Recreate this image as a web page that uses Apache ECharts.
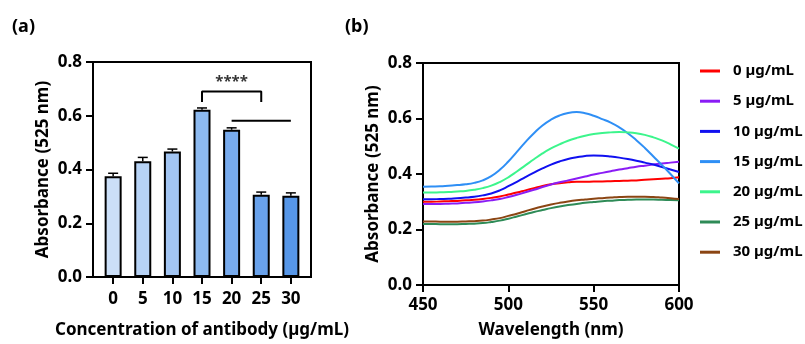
<!DOCTYPE html>
<html><head><meta charset="utf-8">
<script src="https://cdn.jsdelivr.net/npm/echarts@6/dist/echarts.min.js"></script>
<style>html,body{margin:0;padding:0;background:#fff}#c{width:805px;height:344px}</style>
</head><body><div id="c"></div>
<script>
// ---- Panel (a) data ----
const categories = ['0', '5', '10', '15', '20', '25', '30'];
const barValues = [0.375, 0.431, 0.467, 0.622, 0.548, 0.306, 0.302];
const barErrors = [0.011, 0.014, 0.009, 0.007, 0.007, 0.010, 0.011];
const barColors = ['#cbdff8', '#b7d3f6', '#a2c5f3', '#8dbaf0', '#78abed', '#69a2eb', '#5797e8'];
const bracketPoints = [[3, 0.651], [3, 0.69], [5, 0.69], [5, 0.651]];
const plainLinePoints = [[4, 0.581], [6, 0.581]];
const sigLabelPoint = [4, 0.69];
const sigLabel = '****';

// ---- Panel (b) data ----
const wavelengths = [450, 455, 460, 465, 470, 475, 480, 485, 490, 495, 500, 505, 510, 515, 520, 525,
                     530, 535, 540, 545, 550, 555, 560, 565, 570, 575, 580, 585, 590, 595, 600];
const abs0  = [0.300, 0.300, 0.301, 0.302, 0.303, 0.305, 0.307, 0.310, 0.314, 0.319, 0.326, 0.333, 0.341, 0.349, 0.357, 0.363,
               0.367, 0.370, 0.372, 0.372, 0.373, 0.373, 0.374, 0.375, 0.376, 0.377, 0.379, 0.381, 0.383, 0.385, 0.388];
const abs5  = [0.292, 0.292, 0.292, 0.293, 0.294, 0.296, 0.298, 0.301, 0.305, 0.310, 0.317, 0.325, 0.334, 0.343, 0.353, 0.362,
               0.370, 0.377, 0.384, 0.391, 0.398, 0.404, 0.410, 0.416, 0.421, 0.426, 0.430, 0.434, 0.438, 0.441, 0.444];
const abs10 = [0.309, 0.309, 0.310, 0.311, 0.313, 0.315, 0.318, 0.323, 0.330, 0.341, 0.356, 0.372, 0.389, 0.405, 0.420, 0.434,
               0.445, 0.454, 0.460, 0.465, 0.467, 0.466, 0.463, 0.459, 0.454, 0.448, 0.441, 0.434, 0.425, 0.416, 0.407];
const abs15 = [0.354, 0.355, 0.356, 0.358, 0.360, 0.363, 0.368, 0.377, 0.392, 0.415, 0.445, 0.480, 0.515, 0.547, 0.575, 0.596,
               0.611, 0.620, 0.623, 0.619, 0.610, 0.598, 0.585, 0.568, 0.547, 0.522, 0.494, 0.463, 0.432, 0.400, 0.366];
const abs20 = [0.333, 0.333, 0.334, 0.335, 0.337, 0.339, 0.343, 0.349, 0.358, 0.371, 0.388, 0.409, 0.431, 0.453, 0.474, 0.492,
               0.507, 0.520, 0.530, 0.538, 0.544, 0.548, 0.550, 0.551, 0.550, 0.547, 0.541, 0.532, 0.521, 0.507, 0.491];
const abs25 = [0.220, 0.220, 0.219, 0.219, 0.219, 0.220, 0.221, 0.223, 0.227, 0.232, 0.239, 0.247, 0.255, 0.263, 0.270, 0.277,
               0.283, 0.288, 0.292, 0.296, 0.299, 0.302, 0.304, 0.306, 0.307, 0.308, 0.308, 0.308, 0.307, 0.306, 0.305];
const abs30 = [0.229, 0.229, 0.228, 0.228, 0.228, 0.229, 0.230, 0.232, 0.236, 0.241, 0.249, 0.257, 0.266, 0.275, 0.283, 0.290,
               0.296, 0.301, 0.305, 0.308, 0.311, 0.313, 0.315, 0.317, 0.318, 0.318, 0.318, 0.317, 0.315, 0.313, 0.310];
const legendNames = ['0 µg/mL', '5 µg/mL', '10 µg/mL', '15 µg/mL', '20 µg/mL', '25 µg/mL', '30 µg/mL'];
const lineColors = ['#ff0000', '#8a1cf5', '#1010f0', '#2f8ff5', '#3cf58c', '#2e8b57', '#8b4513'];
const lineData = [abs0, abs5, abs10, abs15, abs20, abs25, abs30];

const FONT = 'Noto Sans';
const txt = (size) => ({ fontFamily: FONT, fontWeight: 'bold', fontSize: size, color: '#000' });

const chart = echarts.init(document.getElementById('c'), null, { renderer: 'canvas' });

const axisLineStyle = { show: true, onZero: false, lineStyle: { color: '#000', width: 2 } };
const tickStyle = { show: true, length: 7, lineStyle: { color: '#000', width: 2 } };

const barIdx = categories.map((_, i) => i);

const series = [
  {
    type: 'bar', xAxisIndex: 0, yAxisIndex: 0, barWidth: 17,
    data: barValues.map((v, i) => ({ value: [i, v], itemStyle: { color: barColors[i] } })),
    itemStyle: { borderColor: '#000', borderWidth: 2 },
    z: 2
  },
  {
    type: 'custom', xAxisIndex: 0, yAxisIndex: 0,
    data: barValues.map((v, i) => [i, v, barErrors[i]]),
    encode: { x: 0, y: 1 },
    z: 3,
    renderItem: function (params, api) {
      const x = api.value(0), v = api.value(1), e = api.value(2);
      const p0 = api.coord([x, v]);
      const p1 = api.coord([x, v + e]);
      return {
        type: 'group',
        children: [
          { type: 'line', shape: { x1: p0[0], y1: p0[1], x2: p1[0], y2: p1[1] }, style: { stroke: '#000', lineWidth: 1.5 } },
          { type: 'line', shape: { x1: p1[0] - 5, y1: p1[1], x2: p1[0] + 5, y2: p1[1] }, style: { stroke: '#000', lineWidth: 1.5 } }
        ]
      };
    }
  },
  {
    type: 'line', xAxisIndex: 0, yAxisIndex: 0, data: bracketPoints, symbol: 'none',
    lineStyle: { color: '#000', width: 2 }, z: 4, silent: true
  },
  {
    type: 'line', xAxisIndex: 0, yAxisIndex: 0, data: plainLinePoints, symbol: 'none',
    lineStyle: { color: '#000', width: 2 }, z: 4, silent: true
  },
  {
    type: 'scatter', xAxisIndex: 0, yAxisIndex: 0, data: [sigLabelPoint], symbolSize: 0,
    label: { show: true, position: 'top', distance: 2, formatter: sigLabel, ...txt(15) }, z: 5
  }
];

lineData.forEach((arr, k) => {
  series.push({
    name: legendNames[k], type: 'line', xAxisIndex: 1, yAxisIndex: 1,
    data: wavelengths.map((w, i) => [w, arr[i]]),
    smooth: true, symbol: 'none', showSymbol: false,
    lineStyle: { color: lineColors[k], width: 2 },
    itemStyle: { color: lineColors[k] },
    z: 3
  });
});

const option = {
  animation: false,
  backgroundColor: '#fff',
  textStyle: { fontFamily: FONT },
  graphic: [
    { type: 'text', left: 12, top: 18, style: { text: '(a)', font: 'bold 18px "Noto Sans"', fill: '#000' } },
    { type: 'text', left: 345, top: 18, style: { text: '(b)', font: 'bold 18px "Noto Sans"', fill: '#000' } }
  ],
  grid: [
    { left: 93, top: 62, width: 218, height: 218, show: true, borderColor: '#000', borderWidth: 2, backgroundColor: 'transparent' },
    { left: 423, top: 63, width: 256, height: 224, show: true, borderColor: '#000', borderWidth: 2, backgroundColor: 'transparent' }
  ],
  xAxis: [
    {
      gridIndex: 0, type: 'value', min: -0.68, max: 6.68,
      axisLine: axisLineStyle,
      axisTick: { ...tickStyle, customValues: barIdx },
      axisLabel: { customValues: barIdx, formatter: (v) => categories[Math.round(v)], margin: 14, ...txt(17) },
      splitLine: { show: false },
      name: 'Concentration of antibody (µg/mL)', nameLocation: 'middle', nameGap: 45,
      nameTextStyle: txt(17)
    },
    {
      gridIndex: 1, type: 'value', min: 450, max: 600, interval: 50,
      axisLine: axisLineStyle, axisTick: tickStyle,
      axisLabel: { margin: 12, ...txt(17) },
      splitLine: { show: false },
      name: 'Wavelength (nm)', nameLocation: 'middle', nameGap: 37,
      nameTextStyle: txt(17)
    }
  ],
  yAxis: [
    {
      gridIndex: 0, type: 'value', min: 0, max: 0.8, interval: 0.2,
      axisLine: axisLineStyle, axisTick: tickStyle,
      axisLabel: { margin: 11, formatter: (v) => v.toFixed(1), ...txt(17) },
      splitLine: { show: false },
      name: 'Absorbance (525 nm)', nameLocation: 'middle', nameGap: 41,
      nameTextStyle: txt(17)
    },
    {
      gridIndex: 1, type: 'value', min: 0, max: 0.8, interval: 0.2,
      axisLine: axisLineStyle, axisTick: tickStyle,
      axisLabel: { margin: 11, formatter: (v) => v.toFixed(1), ...txt(17) },
      splitLine: { show: false },
      name: 'Absorbance (525 nm)', nameLocation: 'middle', nameGap: 41,
      nameTextStyle: txt(17)
    }
  ],
  legend: {
    data: legendNames, orient: 'vertical', left: 700, top: 63, padding: 0,
    itemWidth: 20, itemHeight: 3, itemGap: 14.2,
    icon: 'rect',
    textStyle: { ...txt(15), lineHeight: 16, padding: [0, 0, 0, 8] }
  },
  series: series
};
chart.setOption(option);
</script>
</body></html>
